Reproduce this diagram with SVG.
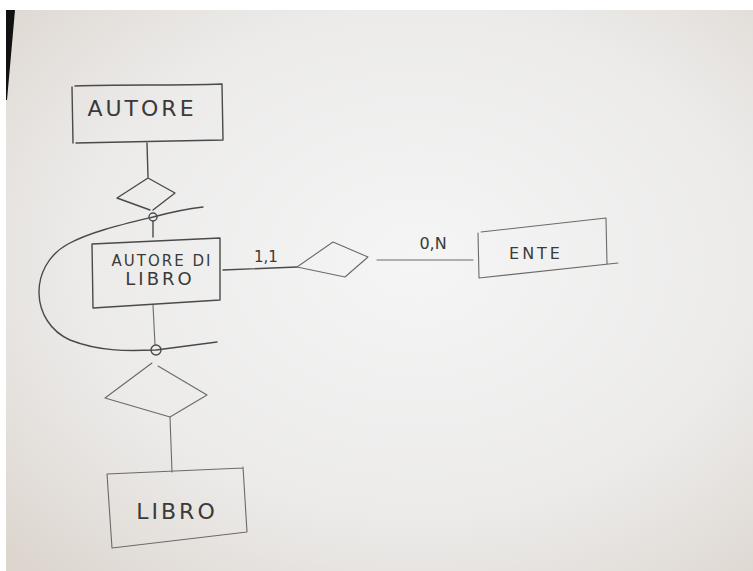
<svg xmlns="http://www.w3.org/2000/svg" width="753" height="571" viewBox="0 0 753 571">
<defs>
<radialGradient id="paper" cx="0.55" cy="0.45" r="0.75">
<stop offset="0" stop-color="#f5f5f5"/>
<stop offset="0.6" stop-color="#ecebea"/>
<stop offset="1" stop-color="#ddd6cf"/>
</radialGradient>
<style>
.p{fill:none;stroke:#4a4a4a;stroke-width:1.4;stroke-linecap:round;stroke-linejoin:round}
.l{fill:none;stroke:#6a6a6a;stroke-width:1.1;stroke-linecap:round;stroke-linejoin:round}
.t{font-family:"DejaVu Sans","Liberation Sans",sans-serif;fill:#3a3a3a;font-weight:normal}
</style>
</defs>
<rect width="753" height="571" fill="#ffffff"/>
<polygon points="6,10 753,10 753,571 6,571" fill="url(#paper)"/>
<polygon points="6,10 15,10 7,100 6,100" fill="#111"/>

<g id="connectors">
<path class="p" d="M147,143 L148,177"/>
<path class="p" d="M153,221 L153,237"/>
<path class="l" d="M153,305 L155,345"/>
<path class="l" d="M170,417 L172,472"/>
<path class="p" d="M223,270 L297,267"/>
<path class="l" d="M377,260 L473,260"/>
<path class="p" d="M203,207 C185,209 168,213 153,217 C120,225 90,232 68,244 C28,266 30,322 70,340 C100,352 130,351 156,350 L217,342"/>
<circle class="p" cx="153" cy="217" r="4"/>
<circle class="p" cx="156" cy="350" r="5"/>
</g>

<g id="autore">
<path class="p" d="M72,87 L73,143 M75,86 C120,84 170,86 222,84 L223,140 C180,141 120,142 76,143"/>
<text class="t" x="142" y="116" font-size="22" letter-spacing="3" text-anchor="middle">AUTORE</text>
</g>

<g id="rel1">
<path class="p" d="M148,178 L117,198 L150,210 M148,178 L175,193 L153,210"/>
</g>

<g id="autore-di-libro">
<path class="p" d="M92,244 L93,308 L220,300 L220,238 C180,240 130,242 92,244"/>
<text class="t" x="162" y="266" font-size="15" letter-spacing="2" text-anchor="middle">AUTORE DI</text>
<text class="t" x="160" y="285" font-size="18" letter-spacing="3" text-anchor="middle">LIBRO</text>
</g>

<g id="rel2">
<path class="l" d="M297,267 L333,242 L368,257 L345,277 L297,267"/>
</g>

<g id="ente">
<path class="l" d="M478,233 L479,278 L618,263 M481,232 L606,218 L607,264"/>
<text class="t" x="536" y="259" font-size="16" letter-spacing="3" text-anchor="middle">ENTE</text>
</g>

<g id="rel3">
<path class="l" d="M105,398 L152,363 M158,366 L207,395 L170,417 L105,398"/>
</g>

<g id="libro">
<path class="l" d="M107,474 L112,548 L247,532 L243,467 M107,474 L243,468"/>
<text class="t" x="177" y="519" font-size="22" letter-spacing="3" text-anchor="middle">LIBRO</text>
</g>

<g id="labels">
<text class="t" x="266" y="262" font-size="15" text-anchor="middle">1,1</text>
<text class="t" x="433" y="249" font-size="16" text-anchor="middle">0,N</text>
</g>
</svg>
